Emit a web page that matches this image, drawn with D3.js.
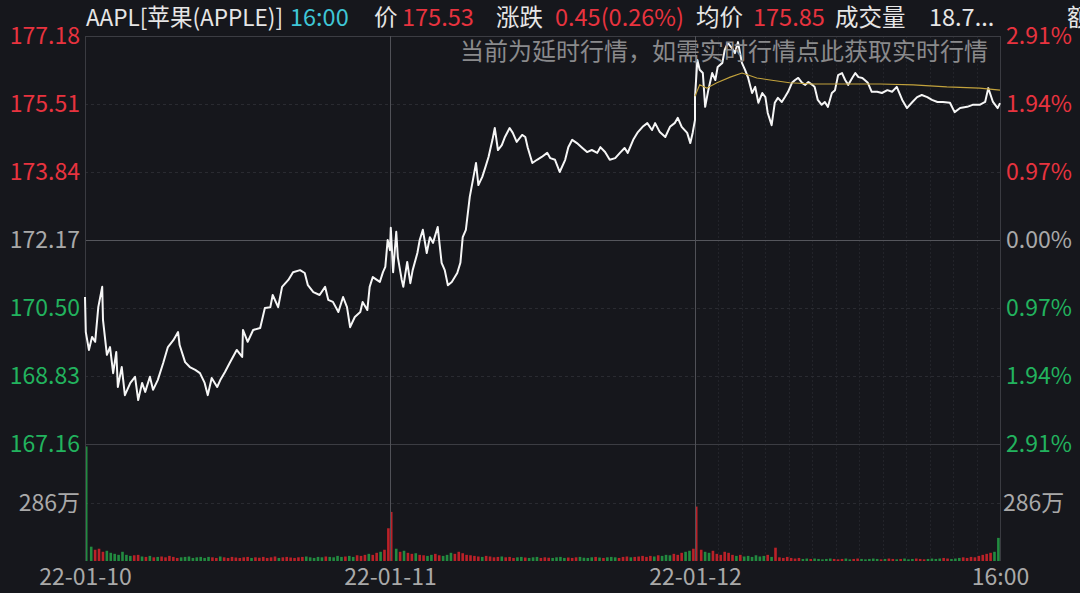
<!DOCTYPE html>
<html><head><meta charset="utf-8">
<script src="https://cdn.jsdelivr.net/npm/d3@7"></script>
<style>html,body{margin:0;padding:0;background:#16171c;overflow:hidden}svg{display:block}</style>
</head><body><svg id="c" width="1080" height="593"></svg>
<script>
const prevClose = 172.17;
const priceTicks = [177.18, 175.51, 173.84, 172.17, 170.50, 168.83, 167.16];
const pctTicks = ["2.91%", "1.94%", "0.97%", "0.00%", "0.97%", "1.94%", "2.91%"];
const volTickLabel = "286万";
const volTick = 286;
const dateLabels = ["22-01-10", "22-01-11", "22-01-12", "16:00"];

// [minute from open, price]
const day1Prices = [[0,170.77],[1,169.91],[5,169.47],[9,169.79],[13,169.67],[17,170.52],[22,171.02],[23,170.21],[28,169.35],[32,169.54],[36,168.90],[40,169.42],[42,168.56],[47,169.05],[51,168.36],[58,168.66],[64,168.81],[68,168.24],[73,168.66],[77,168.44],[83,168.81],[87,168.49],[93,168.73],[100,169.15],[106,169.54],[113,169.71],[119,169.91],[121,169.59],[128,169.17],[134,169.05],[141,168.98],[147,168.90],[153,168.66],[157,168.36],[162,168.78],[169,168.56],[173,168.73],[179,168.93],[185,169.15],[194,169.47],[201,169.30],[202,169.96],[208,169.67],[215,169.96],[224,170.01],[230,170.50],[237,170.52],[240,170.82],[247,170.52],[252,171.02],[260,171.19],[266,171.38],[275,171.43],[281,171.36],[285,171.06],[292,170.89],[300,170.82],[307,171.02],[311,170.70],[317,170.65],[324,170.40],[330,170.77],[335,170.52],[339,170.03],[345,170.28],[352,170.40],[355,170.65],[361,170.45],[364,171.02],[368,171.26],[377,171.14],[381,171.38],[384,171.51],[387,172.17],[390,171.92]];
const day2Prices = [[1,172.47],[4,171.38],[8,172.37],[10,171.75],[15,171.19],[17,171.02],[22,171.63],[26,171.11],[29,171.43],[35,171.85],[38,172.17],[42,172.42],[47,171.85],[51,172.24],[55,172.10],[61,172.49],[66,171.61],[70,171.43],[74,171.06],[79,171.14],[86,171.36],[90,171.61],[93,172.24],[97,172.42],[102,173.23],[106,173.64],[110,174.06],[113,173.52],[118,173.72],[122,173.96],[126,174.21],[131,174.63],[134,174.92],[138,174.38],[143,174.50],[147,174.70],[153,174.92],[157,174.80],[162,174.58],[169,174.75],[173,174.70],[176,174.45],[182,174.06],[188,174.14],[194,174.21],[201,174.31],[205,174.18],[211,174.14],[217,173.84],[224,174.14],[228,174.45],[233,174.63],[239,174.55],[246,174.43],[252,174.33],[258,174.38],[265,174.31],[269,174.45],[275,174.33],[281,174.14],[288,174.18],[294,174.31],[300,174.43],[304,174.31],[311,174.63],[317,174.82],[323,174.95],[329,175.04],[335,174.87],[339,175.04],[345,174.82],[352,174.70],[358,174.95],[364,175.04],[368,175.17],[373,174.95],[380,174.80],[384,174.55],[387,174.80],[390,175.12]];
const day3Prices = [[0,175.68],[3,176.59],[6,176.35],[10,176.27],[13,175.44],[17,175.85],[22,176.27],[26,176.10],[29,176.42],[35,176.52],[38,176.84],[42,177.01],[47,176.89],[51,176.76],[55,177.03],[60,176.52],[64,176.35],[68,176.15],[73,175.78],[77,175.93],[81,175.54],[86,175.78],[90,175.68],[93,175.29],[98,174.99],[102,175.54],[106,175.66],[111,175.56],[115,175.68],[119,175.81],[124,176.03],[128,176.10],[132,176.15],[137,176.03],[141,175.98],[145,176.05],[150,175.98],[153,175.93],[157,175.61],[162,175.49],[166,175.56],[170,175.44],[175,175.78],[179,175.85],[183,176.22],[188,176.27],[192,176.10],[196,175.98],[201,176.15],[205,176.27],[209,176.17],[214,176.15],[217,176.10],[221,176.03],[226,175.81],[233,175.81],[239,175.78],[246,175.85],[252,175.81],[258,175.93],[265,175.61],[271,175.41],[278,175.56],[284,175.68],[290,175.73],[297,175.68],[303,175.61],[310,175.56],[317,175.56],[326,175.54],[332,175.31],[339,175.41],[348,175.44],[355,175.49],[364,175.49],[371,175.56],[375,175.90],[381,175.56],[387,175.41],[390,175.53]];
const day3Avg = [[0,175.70],[6,175.98],[15,175.90],[28,176.03],[45,176.17],[60,176.27],[68,176.22],[79,176.15],[96,176.10],[121,176.03],[151,176.00],[194,176.00],[237,176.00],[279,175.98],[322,175.93],[364,175.90],[390,175.85]];

// volume, 万 shares, sampled every 5 minutes
const day1Vol = [560,70,55,60,45,50,40,35,30,45,30,25,28,30,22,20,25,18,20,22,18,25,20,15,18,20,22,15,18,20,15,20,18,15,22,18,15,20,17,15,18,20,15,18,16,20,15,18,22,15,18,20,17,15,18,20,22,18,15,20,18,22,20,18,25,20,22,25,20,28,25,30,35,30,40,45,55,160];
const day2Vol = [240,60,45,50,40,35,38,30,28,25,30,35,28,25,30,40,35,45,38,30,28,25,22,20,25,22,18,20,22,18,20,15,18,20,17,15,18,20,15,18,16,15,18,20,15,17,15,18,20,16,15,18,20,17,15,18,20,18,15,20,22,18,20,22,25,20,25,22,28,25,30,28,35,30,40,45,50,60];
const day3Vol = [266,55,45,40,50,35,30,45,40,30,25,30,22,25,20,28,22,25,30,20,65,18,15,20,15,12,15,10,12,10,12,10,8,10,12,10,8,10,12,8,10,12,10,8,10,12,10,8,10,12,10,8,10,12,8,10,12,10,8,10,12,10,12,15,12,10,12,15,18,15,20,18,25,30,35,40,45,113];

const header = [
  {t:"AAPL[苹果(APPLE)]", x:86, c:"#e6e6e6", w:197},
  {t:"16:00", x:290, c:"#3fc6d6"},
  {t:"价", x:374, c:"#e6e6e6"},
  {t:"175.53", x:402, c:"#e8333f"},
  {t:"涨跌", x:496, c:"#e6e6e6"},
  {t:"0.45(0.26%)", x:555, c:"#e8333f"},
  {t:"均价", x:696, c:"#e6e6e6"},
  {t:"175.85", x:753, c:"#e8333f"},
  {t:"成交量", x:835, c:"#e6e6e6"},
  {t:"18.7...", x:929, c:"#e6e6e6"},
  {t:"额", x:1067, c:"#e6e6e6"}
];
const notice = "当前为延时行情，如需实时行情点此获取实时行情";

const svg = d3.select("#c");
const FONT = "'Noto Sans CJK SC','Noto Sans',sans-serif";
const L = 85, R = 1000, T = 36, PB = 444, VB = 561;
const x = d3.scaleLinear().domain([0, 1170]).range([L, R]);
const y = d3.scaleLinear().domain([167.16, 177.18]).range([PB, T]);
const yv = d3.scaleLinear().domain([0, volTick * 2]).range([VB, PB]);

const red = "#e8333f", green = "#22b35e", grey = "#a9a9a9";
const g = svg.append("g");

// day3 half-hour faint verticals
for (let k = 1; k < 13; k++) {
  const xx = Math.round(x(780 + k * 30)) + 0.5;
  g.append("line").attr("x1", xx).attr("x2", xx).attr("y1", T).attr("y2", VB)
    .attr("stroke", "#23242a").attr("stroke-width", 1).attr("stroke-dasharray", "2,2");
}
// horizontal grid
priceTicks.forEach((p, i) => {
  const yy = Math.round(y(p)) + 0.5;
  const main = i === 3, edge = i === 0 || i === 6;
  g.append("line").attr("x1", L).attr("x2", R).attr("y1", yy).attr("y2", yy)
    .attr("stroke", main ? "#55565c" : edge ? "#3c3d43" : "#2a2b31")
    .attr("stroke-dasharray", main || edge ? null : "3,3");
});
g.append("line").attr("x1", L).attr("x2", R).attr("y1", Math.round(yv(volTick)) + 0.5).attr("y2", Math.round(yv(volTick)) + 0.5)
  .attr("stroke", "#2a2b31").attr("stroke-dasharray", "3,3");
// verticals
[0, 390, 780, 1170].forEach(m => {
  const xx = Math.round(x(m)) + 0.5;
  g.append("line").attr("x1", xx).attr("x2", xx).attr("y1", T).attr("y2", VB)
    .attr("stroke", m === 0 || m === 1170 ? "#3a3b41" : "#505157");
});

// axis labels
const yAxisL = d3.axisLeft(y).tickValues(priceTicks).tickSize(0).tickPadding(5).tickFormat(d3.format(".2f"));
const gl = svg.append("g").attr("transform", `translate(${L},0)`).call(yAxisL);
gl.select(".domain").remove();
gl.selectAll("text").attr("font-family", FONT).attr("font-size", 23)
  .attr("fill", d => d > prevClose ? red : d < prevClose ? green : grey);
const yAxisR = d3.axisRight(y).tickValues(priceTicks).tickSize(0).tickPadding(6).tickFormat((d, i) => pctTicks[i]);
const gr = svg.append("g").attr("transform", `translate(${R},0)`).call(yAxisR);
gr.select(".domain").remove();
gr.selectAll("text").attr("font-family", FONT).attr("font-size", 23)
  .attr("fill", d => d > prevClose ? red : d < prevClose ? green : grey);
[[L - 5, "end"], [R + 3, "start"]].forEach(([xx, a]) => {
  svg.append("text").attr("x", xx).attr("y", yv(volTick)).attr("dy", "0.36em").attr("text-anchor", a)
    .attr("font-family", FONT).attr("font-size", 23).attr("fill", grey).text(volTickLabel);
});
const xAxis = d3.axisBottom(x).tickValues([0, 390, 780, 1170]).tickSize(0).tickPadding(8).tickFormat((d, i) => dateLabels[i]);
const gx = svg.append("g").attr("transform", `translate(0,${VB})`).call(xAxis);
gx.select(".domain").remove();
gx.selectAll("text").attr("font-family", FONT).attr("font-size", 23).attr("fill", grey);

// volume bars
const days = [day1Prices, day2Prices, day3Prices];
function priceAt(day, m) {
  const arr = days[day];
  let best = arr[0];
  for (const p of arr) if (p[0] <= m) best = p;
  return best[1];
}
[day1Vol, day2Vol, day3Vol].forEach((vols, di) => {
  const step = 390 / vols.length;
  vols.forEach((v, i) => {
    const m = i * step;
    const prev = i === 0 ? (di === 0 ? 172.17 : priceAt(di - 1, 390)) : priceAt(di, m - step);
    const cur = priceAt(di, m + step * 0.5);
    const col = cur >= prev ? "#d8232a" : "#25a046";
    const x0 = x(di * 390 + m) + 1;
    const w = i === 0 ? 1.5 : 2.6;
    svg.append("rect").attr("x", x0).attr("width", w).attr("y", yv(v)).attr("height", VB - yv(v))
      .attr("fill", col).attr("opacity", 0.85);
  });
});

// price line
const all = [];
days.forEach((arr, di) => arr.forEach(p => all.push([di * 390 + p[0], p[1]])));
const line = d3.line().x(d => x(d[0])).y(d => y(d[1]));
svg.append("path").datum(all).attr("d", line).attr("fill", "none").attr("stroke", "#f6f6f6")
  .attr("stroke-width", 2).attr("stroke-linejoin", "round");
svg.append("path").datum(day3Avg.map(p => [780 + p[0], p[1]])).attr("d", line).attr("fill", "none")
  .attr("stroke", "#c2a23c").attr("stroke-width", 1.1);

// header
header.forEach(h => {
  const t = svg.append("text").attr("x", h.x).attr("y", 26).attr("font-family", FONT)
    .attr("font-size", 23.5).attr("fill", h.c).text(h.t);
  if (h.w) t.attr("textLength", h.w).attr("lengthAdjust", "spacingAndGlyphs");
});
svg.append("text").attr("x", 988).attr("y", 60).attr("text-anchor", "end").attr("font-family", FONT)
  .attr("font-size", 24).attr("fill", "#8a8a8c").text(notice);
</script></body></html>
